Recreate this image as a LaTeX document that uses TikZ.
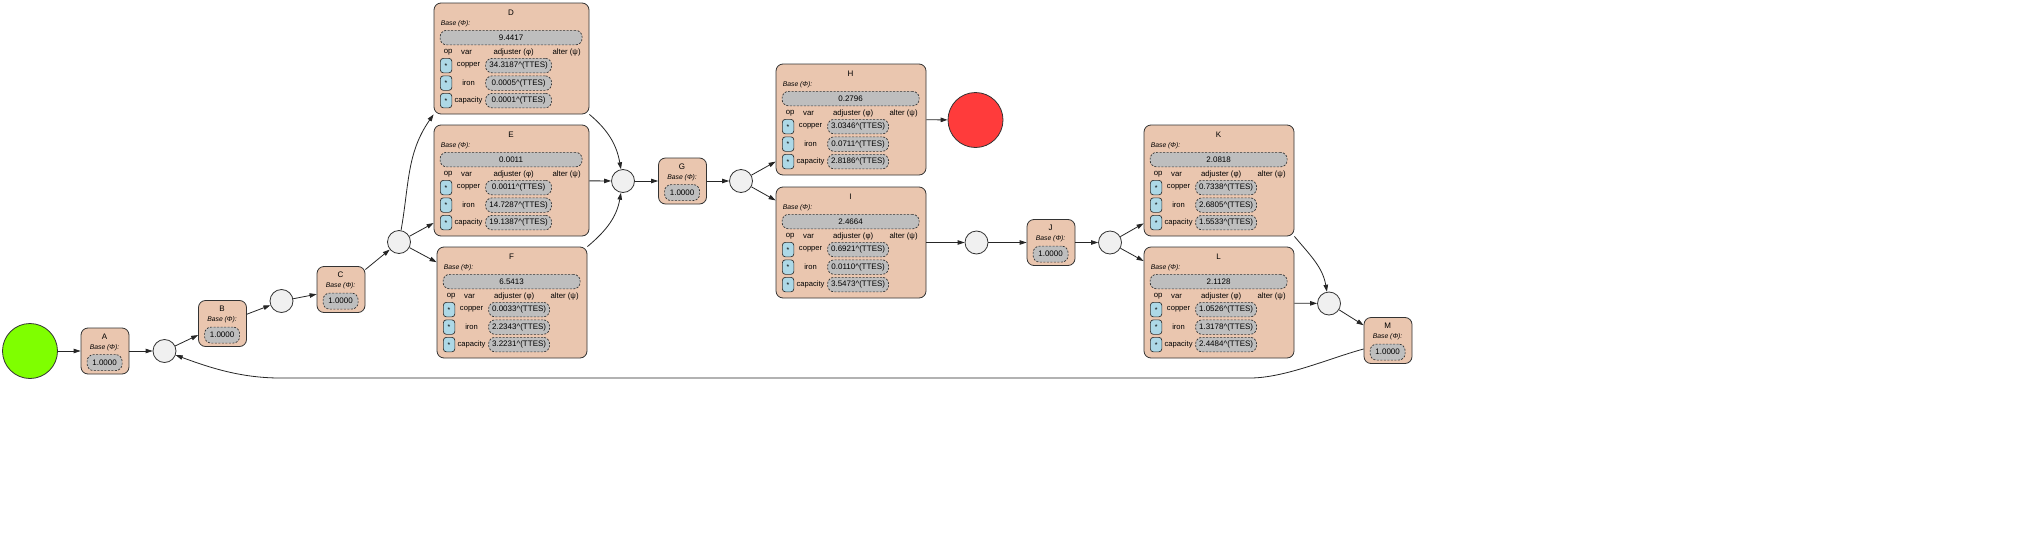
\documentclass[tikz,border=0pt]{standalone}
\usepackage{fontspec}
\setmainfont{Liberation Sans}
\usetikzlibrary{arrows.meta,calc}
\definecolor{peach}{HTML}{EAC6AF}
\definecolor{valgray}{HTML}{BEBEBE}
\definecolor{opblue}{HTML}{ADD8E6}
\definecolor{circfill}{HTML}{F0F0F0}
\definecolor{startgreen}{HTML}{7FFF00}
\definecolor{endred}{HTML}{FF3B3B}
\definecolor{bordercol}{HTML}{333333}
\newcommand\ttesv[1]{#1\textasciicircum(TTES)}
\tikzset{
  panel/.style={draw=bordercol, fill=peach, rounded corners=7pt, line width=0.8pt, minimum height=111pt, inner sep=0pt},
  smallpanel/.style={draw=bordercol, fill=peach, rounded corners=7pt, line width=0.8pt, minimum width=48pt, minimum height=46pt, inner sep=0pt},
  ttl/.style={font=\fontsize{8}{9}\selectfont, inner sep=0pt},
  basetxt/.style={font=\fontsize{6.8}{8}\selectfont\itshape, inner sep=0pt},
  valbox/.style={draw=bordercol, fill=valgray, dash pattern=on 2pt off 1.5pt, rounded corners=6.5pt, line width=0.7pt, minimum height=14.5pt, inner sep=0pt, font=\fontsize{8}{9}\selectfont},
  hdr/.style={font=\fontsize{7.8}{9}\selectfont, inner sep=0pt},
  opbox/.style={draw=bordercol, fill=opblue, rounded corners=3pt, line width=0.7pt, minimum width=11.5pt, minimum height=14.5pt, inner sep=0pt, font=\fontsize{7}{8}\selectfont},
  vartxt/.style={font=\fontsize{7.6}{9}\selectfont, inner sep=0pt},
  hub/.style={circle, draw=bordercol, fill=circfill, line width=0.8pt, minimum size=23pt, inner sep=0pt},
  bigdot/.style={circle, draw=bordercol, line width=0.8pt, minimum size=55pt, inner sep=0pt},
  conn/.style={draw=black!85, line width=0.8pt, -{Triangle[length=7pt,width=4.5pt]}},
}
\newcommand\bigbox[8]{%
  \pgfmathsetmacro\bwa{#3-13}%
  \pgfmathsetmacro\bwb{#3-89}%
  \pgfmathsetmacro\bxc{#3/2}%
  \pgfmathsetmacro\bxd{52+(#3-89)/2}%
  \pgfmathsetmacro\bxe{#3-22}%
  \pgfmathsetmacro\bxf{80-(155-#3)/2}%
  \node[panel, minimum width=#3pt] (#1) at (#2) {};
  \begin{scope}[shift={(#1.north west)}]
    \node[ttl] (#1t) at (\bxc,10) {#4};
    \node[basetxt, anchor=west] (#1b) at (7,21) {Base (Φ):};
    \node[valbox, minimum width=\bwa pt] (#1v) at (\bxc,35) {#5};
    \node[hdr] (#1h1) at (14.5,50) {op};
    \node[hdr] (#1h2) at (33,50) {var};
    \node[hdr] (#1h3) at (\bxf,50) {adjuster (φ)};
    \node[hdr] (#1h4) at (\bxe,50) {alter (ψ)};
    \node[opbox] (#1o1) at (12.5,63) {*};
    \node[vartxt] (#1n1) at (35,63) {copper};
    \node[valbox, minimum width=\bwb pt] (#1a1) at (\bxd,63) {\ttesv{#6}};
    \node[opbox] (#1o2) at (12.5,80.5) {*};
    \node[vartxt] (#1n2) at (35,80.5) {iron};
    \node[valbox, minimum width=\bwb pt] (#1a2) at (\bxd,80.5) {\ttesv{#7}};
    \node[opbox] (#1o3) at (12.5,98) {*};
    \node[vartxt] (#1n3) at (35,98) {capacity};
    \node[valbox, minimum width=\bwb pt] (#1a3) at (\bxd,98) {\ttesv{#8}};
  \end{scope}}
\newcommand\smallbox[3]{%
  \node[smallpanel] (#1) at (#2) {};
  \begin{scope}[shift={(#1.north west)}]
    \node[ttl] (#1t) at (24,9) {#3};
    \node[basetxt] (#1b) at (24,20) {Base (Φ):};
    \node[valbox, minimum width=35pt, minimum height=16pt] (#1v) at (24,35) {1.0000};
  \end{scope}}
\begin{document}
\begin{tikzpicture}[x=1pt,y=-1pt]
\path[fill=white, use as bounding box] (0,0) rectangle (2037,549);
% terminals
\node[bigdot, fill=startgreen] (start) at (30,351) {};
\node[bigdot, fill=endred] (finish) at (975.5,120) {};
% small boxes
\smallbox{A}{105,351}{A}
\smallbox{B}{222.5,323.5}{B}
\smallbox{C}{341,289.5}{C}
\smallbox{G}{682.5,181}{G}
\smallbox{J}{1051,242.5}{J}
\smallbox{M}{1388,340.5}{M}
% big boxes
\bigbox{D}{511.5,58.5}{155}{D}{9.4417}{34.3187}{0.0005}{0.0001}
\bigbox{E}{511.5,180.5}{155}{E}{0.0011}{0.0011}{14.7287}{19.1387}
\bigbox{F}{512,302.5}{150}{F}{6.5413}{0.0033}{2.2343}{3.2231}
\bigbox{H}{851,119.5}{150}{H}{0.2796}{3.0346}{0.0711}{2.8186}
\bigbox{I}{851,242.5}{150}{I}{2.4664}{0.6921}{0.0110}{3.5473}
\bigbox{K}{1219,180.5}{150}{K}{2.0818}{0.7338}{2.6805}{1.5533}
\bigbox{L}{1219,302.5}{150}{L}{2.1128}{1.0526}{1.3178}{2.4484}
% hubs
\node[hub] (c1) at (164.5,351) {};
\node[hub] (c2) at (281.5,301) {};
\node[hub] (c3) at (399,242) {};
\node[hub] (c4) at (623,181) {};
\node[hub] (c5) at (741,181) {};
\node[hub] (c6) at (976.5,242.5) {};
\node[hub] (c7) at (1110,242.5) {};
\node[hub] (c8) at (1329,303.5) {};
% edges
\draw[conn] (start) -- (A);
\draw[conn] (A) -- (c1);
\draw[conn] (c1) -- (B);
\draw[conn] (B) -- (c2);
\draw[conn] (c2) -- (C);
\draw[conn] (C) -- (c3);
\draw[conn] (c3) to[out=80, in=-125] (D.south west);
\draw[conn] (c3) -- (E);
\draw[conn] (c3) -- (F);
\draw[conn] (D.south east) to[out=-40, in=100] (c4);
\draw[conn] (E) -- (c4);
\draw[conn] (F.north east) to[out=40, in=-100] (c4);
\draw[conn] (c4) -- (G);
\draw[conn] (G) -- (c5);
\draw[conn] (c5) -- (H);
\draw[conn] (c5) -- (I);
\draw[conn] (H) -- (finish);
\draw[conn] (I) -- (c6);
\draw[conn] (c6) -- (J);
\draw[conn] (J) -- (c7);
\draw[conn] (c7) -- (K);
\draw[conn] (c7) -- (L);
\draw[conn] (K.south east) to[out=-50, in=100] (c8);
\draw[conn] (L) -- (c8);
\draw[conn] (c8) -- (M);
\coordinate (b1) at (1250,378);
\coordinate (b2) at (280,378);
\draw[conn] ([yshift=-8.5pt]M.west) .. controls (1330,358) and (1285,378) .. (b1) -- (b2) .. controls (240,378) and (208,367) .. (c1);
\end{tikzpicture}
\end{document}
